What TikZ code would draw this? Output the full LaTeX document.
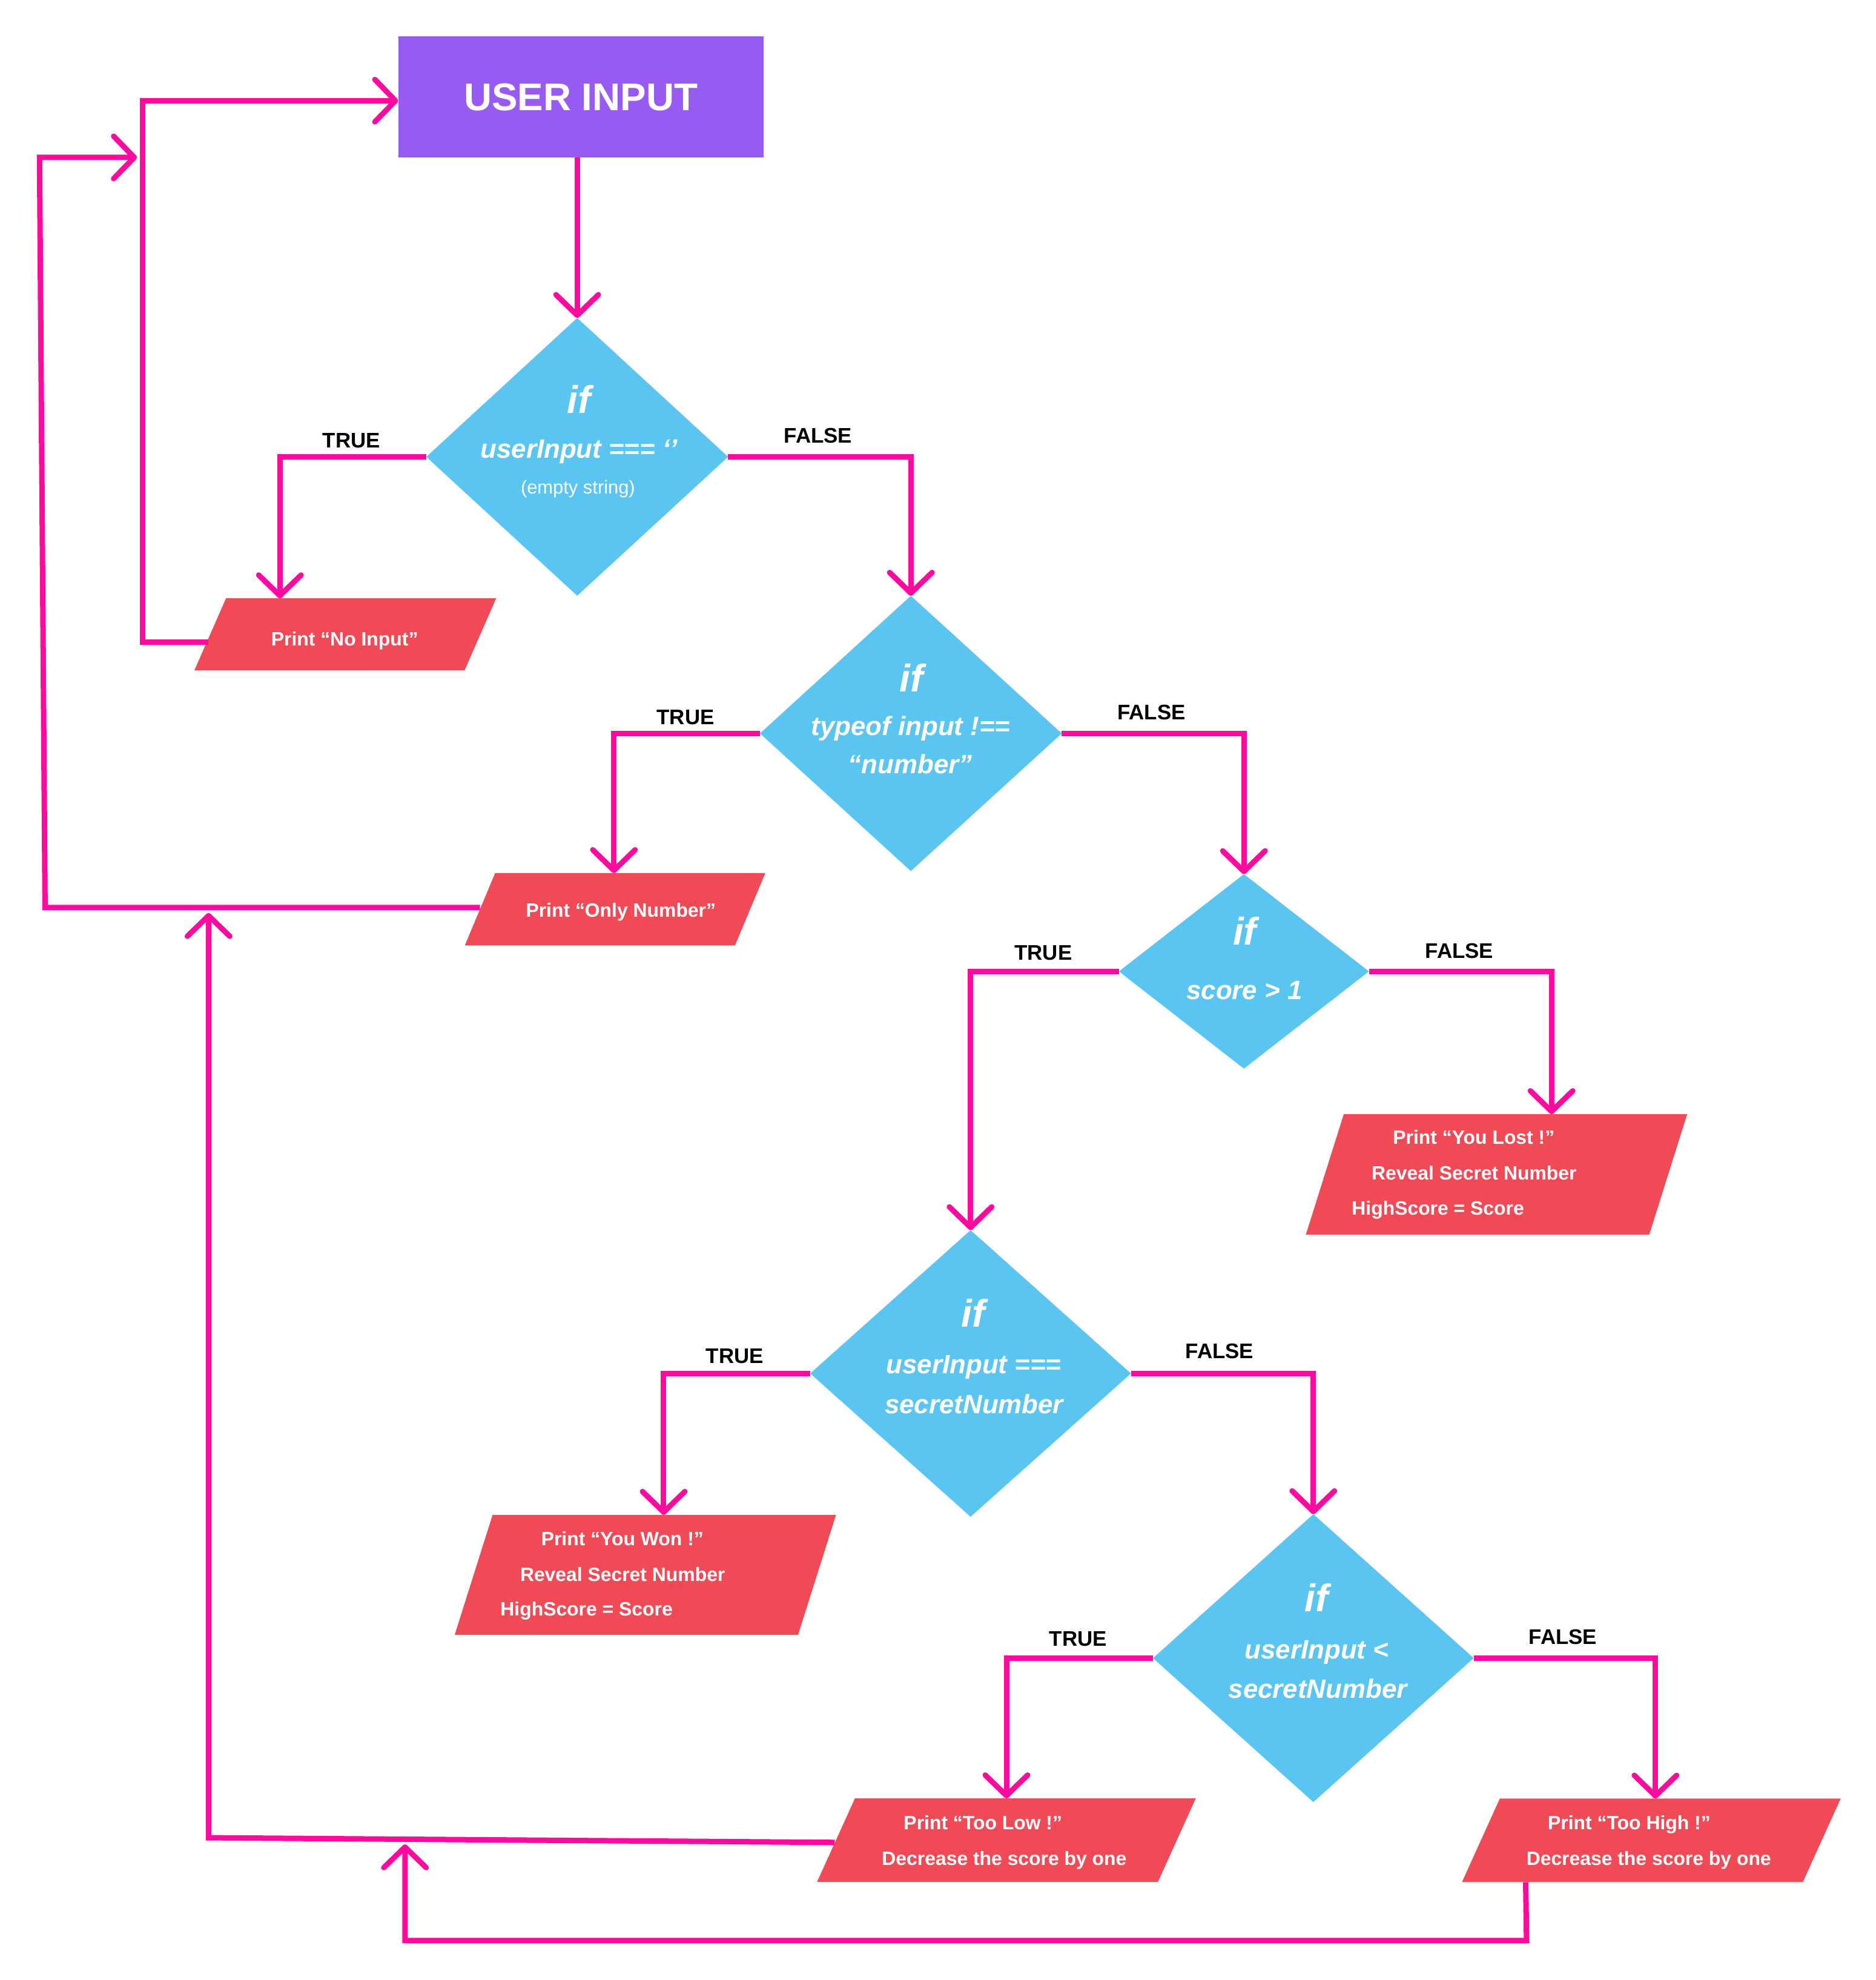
\documentclass[tikz,border=0pt]{standalone}
\usepackage{fontspec}
\setmainfont{Liberation Sans}
\usetikzlibrary{arrows.meta,calc,shapes.geometric}

\definecolor{flowpink}{HTML}{FF0A9E}
\definecolor{startpurple}{HTML}{975AF3}
\definecolor{decisionblue}{HTML}{5BC5F2}
\definecolor{outputred}{HTML}{F04A56}

% one drawing unit in points
\newcommand\pxu{2.0848bp}
% slanted output box filled around a rectangular body node: #1 node, #2 skew
\newcommand\ioshape[2]{%
  \fill[outputred] ($(#1.north west)+(#2/2,0)$) -- ($(#1.north east)+(#2/2,0)$)
    -- ($(#1.south east)+(-#2/2,0)$) -- ($(#1.south west)+(-#2/2,0)$) -- cycle;}

\begin{document}
\begin{tikzpicture}[x=2.0848bp, y=-2.0848bp,
  flow/.style={draw=flowpink, line width=9bp, line join=miter},
  arr/.style={flow, -{Straight Barb[length=34bp,width=70bp,round]}},
  startbox/.style={rectangle, fill=startpurple, inner sep=0pt, outer sep=0pt,
    text=white, font=\fontsize{64}{70}\selectfont\bfseries,
    text height=46pt, text depth=0pt},
  decision/.style={diamond, fill=decisionblue, inner sep=0pt, outer sep=0pt},
  iobody/.style={rectangle, inner sep=0pt, outer sep=0pt},
  iftxt/.style={text=white, inner sep=0pt, font=\fontsize{64}{70}\selectfont\bfseries\itshape,
    text height=46pt, text depth=0pt},
  condtxt/.style={text=white, inner sep=0pt, font=\fontsize{44}{50}\selectfont\bfseries\itshape,
    text height=31.5pt, text depth=0pt},
  subtxt/.style={text=white, inner sep=0pt, font=\fontsize{31}{36}\selectfont,
    text height=22pt, text depth=0pt},
  iotxt/.style={text=white, inner sep=0pt, font=\fontsize{32}{38}\selectfont\bfseries,
    text height=23pt, text depth=0pt},
  branch/.style={text=black, inner sep=0pt, font=\fontsize{35}{42}\selectfont\bfseries,
    text height=25pt, text depth=0pt}
]
\fill[white] (0,0) rectangle (1486,1568.5);
\useasboundingbox (0,0) rectangle (1486,1568.5);

% start box
\node[startbox, minimum width=289.4*\pxu, minimum height=95.9*\pxu] (uin) at (460.1,76.75) {USER INPUT};

% decisions
\node[decision, minimum width=239*\pxu, minimum height=220*\pxu] (d1) at (457.2,361.9) {};
\node[decision, minimum width=239*\pxu, minimum height=218*\pxu] (d2) at (721.5,581) {};
\node[decision, minimum width=198*\pxu, minimum height=154*\pxu] (d3) at (985.3,769.5) {};
\node[decision, minimum width=254*\pxu, minimum height=227*\pxu] (d4) at (768.8,1088) {};
\node[decision, minimum width=254*\pxu, minimum height=228*\pxu] (d5) at (1040.3,1313.5) {};

% output boxes
\node[iobody, minimum width=214*\pxu, minimum height=57*\pxu] (noinp) at (273.5,502.5) {};
\node[iobody, minimum width=214*\pxu, minimum height=57.3*\pxu] (onlynum) at (487.2,720.3) {};
\node[iobody, minimum width=272*\pxu, minimum height=95.4*\pxu] (lost) at (1185.4,930.3) {};
\node[iobody, minimum width=272*\pxu, minimum height=95*\pxu] (won) at (511.2,1247.5) {};
\node[iobody, minimum width=270*\pxu, minimum height=66.2*\pxu] (low) at (797.2,1457.7) {};
\node[iobody, minimum width=270*\pxu, minimum height=66.2*\pxu] (high) at (1308,1457.9) {};
\ioshape{noinp}{25}
\ioshape{onlynum}{24}
\ioshape{lost}{30}
\ioshape{won}{30}
\ioshape{low}{30}
\ioshape{high}{30}

% decision texts
\node[iftxt] (d1if) at (458.5,316.3) {if};
\node[condtxt] (d1c) at (458.6,355.5) {userInput === ‘’};
\node[subtxt] (d1s) at (457.8,386) {(empty string)};

\node[iftxt] (d2if) at (722,537) {if};
\node[condtxt] (d2c1) at (721.5,575) {typeof input !==};
\node[condtxt] (d2c2) at (721,605) {“number”};

\node[iftxt] (d3if) at (986,737.5) {if};
\node[condtxt] (d3c) at (985.7,784.3) {score > 1};

\node[iftxt] (d4if) at (771,1040.3) {if};
\node[condtxt] (d4c1) at (771.3,1080.8) {userInput ===};
\node[condtxt] (d4c2) at (771.6,1112) {secretNumber};

\node[iftxt] (d5if) at (1043,1265.6) {if};
\node[condtxt] (d5c1) at (1043,1306.6) {userInput <};
\node[condtxt] (d5c2) at (1043.8,1337.6) {secretNumber};

% output texts
\node[iotxt] (noinpt) at (273,506) {Print “No Input”};
\node[iotxt] (onlynumt) at (491.8,721.1) {Print “Only Number”};

\node[iotxt] (lost1) at (1167.4,900.8) {Print “You Lost !”};
\node[iotxt] (lost2) at (1167.7,929.3) {Reveal Secret Number};
\node[iotxt] (lost3) at (1139,956.8) {HighScore = Score};

\node[iotxt] (won1) at (493,1218.7) {Print “You Won !”};
\node[iotxt] (won2) at (493.2,1247.1) {Reveal Secret Number};
\node[iotxt] (won3) at (464.6,1274.7) {HighScore = Score};

\node[iotxt] (low1) at (778.6,1443.8) {Print “Too Low !”};
\node[iotxt] (low2) at (795.5,1472) {Decrease the score by one};

\node[iotxt] (high1) at (1290.5,1443.8) {Print “Too High !”};
\node[iotxt] (high2) at (1306,1472) {Decrease the score by one};

% branch labels
\node[branch] (t1) at (278.4,348.9) {TRUE};
\node[branch] (f1) at (648,345) {FALSE};
\node[branch] (t2) at (543,568) {TRUE};
\node[branch] (f2) at (912,564) {FALSE};
\node[branch] (t3) at (826.4,754.7) {TRUE};
\node[branch] (f3) at (1156,752.9) {FALSE};
\node[branch] (t4) at (582,1074) {TRUE};
\node[branch] (f4) at (966,1070) {FALSE};
\node[branch] (t5) at (854,1298) {TRUE};
\node[branch] (f5) at (1238,1296.6) {FALSE};

% forward flow
\draw[arr] (uin.south -| d1.north) -- (d1.north);
\draw[arr] (d1.west) -| ($(noinp.north)+(-51.8,0)$);
\draw[arr] (d1.east) -| (d2.north);
\draw[arr] (d2.west) -| ($(onlynum.north)+(-0.9,0)$);
\draw[arr] (d2.east) -| (d3.north);
\draw[arr] (d3.west) -| (d4.north);
\draw[arr] (d3.east) -| ($(lost.north)+(43.6,0)$);
\draw[arr] (d4.west) -| ($(won.north)+(14.5,0)$);
\draw[arr] (d4.east) -| (d5.north);
\draw[arr] (d5.west) -| (low.north);
\draw[arr] (d5.east) -| ($(high.north)+(3.3,0)$);

% loops back to the input
\draw[arr] ($(noinp.west)+(-1.5,6)$) -- ++(-52,0) coordinate (j1) |- ($(uin.west)+(0,3)$);
\draw[arr] ($(onlynum.west)+(0,-1.4)$) -- ++(-344.5,0) coordinate (j2)
  -- ++(-4.4,-594.2) coordinate (j2top) -- ($(j1 |- j2top)+(-4.5,0)$);
\draw[arr] ($(low.west)+(-1,1.8)$) -- ++(-496,-3.7) coordinate (j3) -- ($(j3 |- j2)+(0,4.3)$);
\draw[arr] ($(high.south)+(-99.5,0)$) -- ++(0.7,46.2) -| ($(j3)+(155.6,5.2)$);
\end{tikzpicture}
\end{document}
